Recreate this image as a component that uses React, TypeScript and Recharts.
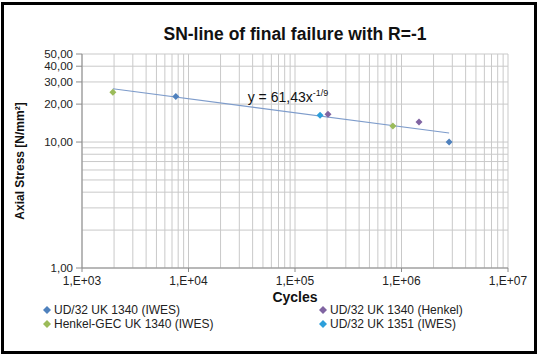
import * as React from "react";
import {
  ScatterChart,
  Scatter,
  XAxis,
  YAxis,
  CartesianGrid,
} from "recharts";

// ── Data ──────────────────────────────────────────────────────────────
const ud1340Iwes = [
  { x: 7600, y: 23.0 },
  { x: 2800000, y: 10.0 },
];
const ud1340Henkel = [
  { x: 204000, y: 16.6 },
  { x: 1460000, y: 14.4 },
];
const henkelGec = [
  { x: 1950, y: 24.8 },
  { x: 830000, y: 13.4 },
];
const ud1351Iwes = [{ x: 172000, y: 16.3 }];

// power trendline, end points
const trendLine = [
  { x: 1950, y: 26.5 },
  { x: 2800000, y: 11.8 },
];
const equationAnchor = [{ x: 36000, y: 23 }];

const xTicks = [
  1e3, 2e3, 3e3, 4e3, 5e3, 6e3, 7e3, 8e3, 9e3,
  1e4, 2e4, 3e4, 4e4, 5e4, 6e4, 7e4, 8e4, 9e4,
  1e5, 2e5, 3e5, 4e5, 5e5, 6e5, 7e5, 8e5, 9e5,
  1e6, 2e6, 3e6, 4e6, 5e6, 6e6, 7e6, 8e6, 9e6,
  1e7,
];
const xMajor = [1e3, 1e4, 1e5, 1e6, 1e7];
const xLabels = ["1,E+03", "1,E+04", "1,E+05", "1,E+06", "1,E+07"];

const yTicks = [1, 2, 3, 4, 5, 6, 7, 8, 9, 10, 20, 30, 40, 50];
const yMajor = [1, 10, 20, 30, 40, 50];
const yLabels = ["1,00", "10,00", "20,00", "30,00", "40,00", "50,00"];

const series = [
  { name: "UD/32 UK 1340 (IWES)", color: "#4F81BD", data: ud1340Iwes },
  { name: "UD/32 UK 1340 (Henkel)", color: "#8064A2", data: ud1340Henkel },
  { name: "Henkel-GEC UK 1340 (IWES)", color: "#9BBB59", data: henkelGec },
  { name: "UD/32 UK 1351 (IWES)", color: "#2C9FDB", data: ud1351Iwes },
];
// legend order as in the picture (two columns)
const legendOrder = [0, 2, 1, 3];

const FONT = "'Liberation Sans', Arial, sans-serif";
const GRID = "#c9c9c9";
const AXIS = "#8c8c8c";

// ── Ticks ─────────────────────────────────────────────────────────────
function XTick({ x, y, payload }: any) {
  const i = xMajor.indexOf(payload.value);
  if (i < 0) return null;
  return (
    <g>
      <line x1={x} x2={x} y1={y - 8} y2={y - 4} stroke={AXIS} />
      <text x={x} y={y} dy="0.71em" textAnchor="middle" fontSize={12} fill="#222" fontFamily={FONT}>
        {xLabels[i]}
      </text>
    </g>
  );
}

function YTick({ x, y, payload }: any) {
  const i = yMajor.indexOf(payload.value);
  if (i < 0) return null;
  return (
    <g>
      <line x1={x + 3} x2={x + 9} y1={y} y2={y} stroke={AXIS} />
      <text x={x} y={y} dy="0.36em" textAnchor="end" fontSize={11.5} fill="#222" fontFamily={FONT}>
        {yLabels[i]}
      </text>
    </g>
  );
}

function Diamond({ cx, cy, fill }: any) {
  const r = 3.5;
  return (
    <path
      d={`M${cx},${cy - r}L${cx + r},${cy}L${cx},${cy + r}L${cx - r},${cy}Z`}
      fill={fill}
    />
  );
}

function Equation({ cx, cy }: any) {
  return (
    <text x={cx} y={cy} dy="0.36em" fontSize={14} fill="#111" fontFamily={FONT}>
      y = 61,43x
      <tspan fontSize={9} dy="-0.6em">-1/9</tspan>
    </text>
  );
}

// ── Component ─────────────────────────────────────────────────────────
export default function App() {
  return (
    <div style={{ position: "fixed", left: 0, top: 0, width: 539, height: 356, background: "#fff", fontFamily: FONT }}>
      <div
        style={{
          position: "absolute",
          top: 24,
          left: 0,
          width: 590,
          textAlign: "center",
          fontSize: 17.5,
          fontWeight: "bold",
          color: "#111",
        }}
      >
        SN-line of final failure with R=-1
      </div>
      <ScatterChart
        width={539}
        height={356}
        margin={{ top: 54, right: 31, left: 0, bottom: 52 }}
      >
        <CartesianGrid stroke={GRID} strokeWidth={1} />
        <XAxis
          type="number"
          dataKey="x"
          scale="log"
          domain={[1e3, 1e7]}
          ticks={xTicks}
          interval={0}
          allowDataOverflow
          height={36}
          stroke={AXIS}
          tickLine={false}
          tickSize={4}
          tickMargin={4}
          tick={<XTick />}
          label={{
            value: "Cycles",
            position: "insideBottom",
            offset: 2,
            fontSize: 14,
            fontWeight: "bold",
            fill: "#111",
            fontFamily: FONT,
          }}
        />
        <YAxis
          type="number"
          dataKey="y"
          scale="log"
          domain={[1, 50]}
          ticks={yTicks}
          interval={0}
          allowDataOverflow
          width={82}
          stroke={AXIS}
          tickLine={false}
          tickSize={5}
          tickMargin={4}
          tick={<YTick />}
          label={{
            value: "Axial Stress [N/mm²]",
            angle: -90,
            position: "insideLeft",
            offset: 20,
            style: { textAnchor: "middle" },
            fontSize: 12,
            fontWeight: "bold",
            fill: "#111",
            fontFamily: FONT,
          }}
        />
        <Scatter
          data={trendLine}
          line={{ stroke: "#7E9CCB", strokeWidth: 1.2 }}
          shape={() => null}
          legendType="none"
          isAnimationActive={false}
        />
        {series.map((s) => (
          <Scatter
            key={s.name}
            name={s.name}
            data={s.data}
            fill={s.color}
            shape={<Diamond />}
            isAnimationActive={false}
          />
        ))}
        <Scatter data={equationAnchor} shape={<Equation />} legendType="none" isAnimationActive={false} />
      </ScatterChart>
      <div style={{ position: "absolute", top: 303, left: 43, width: 480, fontSize: 12, color: "#222" }}>
        {legendOrder.map((idx, k) => {
          const s = series[idx];
          return (
            <div
              key={s.name}
              style={{
                position: "absolute",
                left: k < 2 ? 0 : 276,
                top: (k % 2) * 14,
                whiteSpace: "nowrap",
                display: "flex",
                alignItems: "center",
                lineHeight: "14px",
              }}
            >
              <svg width={8} height={8} style={{ marginRight: 3 }}>
                <path d="M4,0L8,4L4,8L0,4Z" fill={s.color} />
              </svg>
              {s.name}
            </div>
          );
        })}
      </div>
      {/* chart frame */}
      <div
        style={{
          position: "absolute",
          left: 1,
          top: 2,
          width: 536,
          height: 352,
          borderStyle: "solid",
          borderWidth: 3,
          borderColor: "black",
          boxSizing: "border-box",
          pointerEvents: "none",
        }}
      />
    </div>
  );
}
